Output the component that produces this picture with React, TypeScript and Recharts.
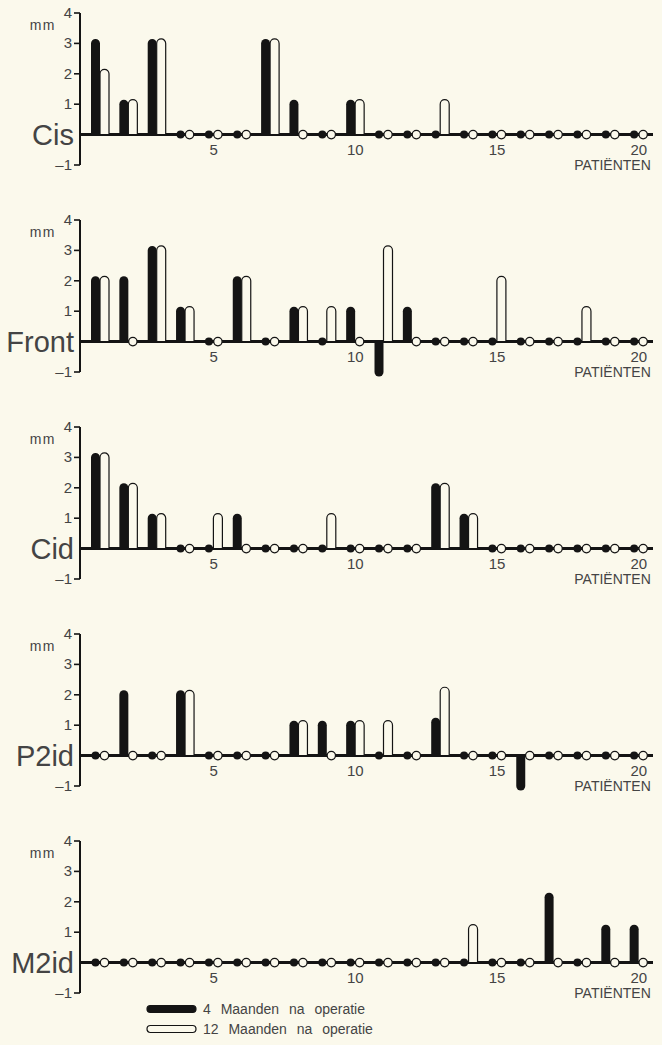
import React from "react";
import { BarChart, Bar, XAxis, YAxis, ReferenceLine, ReferenceDot } from "recharts";

const patients = [1, 2, 3, 4, 5, 6, 7, 8, 9, 10, 11, 12, 13, 14, 15, 16, 17, 18, 19, 20];
const yTicks = [-1, 0, 1, 2, 3, 4];
const xTicks = [5, 10, 15, 20];

// 4 maanden (zwart) / 12 maanden (wit), mm per patiënt
const cis4 = [3, 1, 3, 0, 0, 0, 3, 1, 0, 1, 0, 0, 0, 0, 0, 0, 0, 0, 0, 0];
const cis12 = [2, 1, 3, 0, 0, 0, 3, 0, 0, 1, 0, 0, 1, 0, 0, 0, 0, 0, 0, 0];
const front4 = [2, 2, 3, 1, 0, 2, 0, 1, 0, 1, -1, 1, 0, 0, 0, 0, 0, 0, 0, 0];
const front12 = [2, 0, 3, 1, 0, 2, 0, 1, 1, 0, 3, 0, 0, 0, 2, 0, 0, 1, 0, 0];
const cid4 = [3, 2, 1, 0, 0, 1, 0, 0, 0, 0, 0, 0, 2, 1, 0, 0, 0, 0, 0, 0];
const cid12 = [3, 2, 1, 0, 1, 0, 0, 0, 1, 0, 0, 0, 2, 1, 0, 0, 0, 0, 0, 0];
const p2id4 = [0, 2, 0, 2, 0, 0, 0, 1, 1, 1, 0, 0, 1.1, 0, 0, -1, 0, 0, 0, 0];
const p2id12 = [0, 0, 0, 2, 0, 0, 0, 1, 0, 1, 1, 0, 2.1, 0, 0, 0, 0, 0, 0, 0];
const m2id4 = [0, 0, 0, 0, 0, 0, 0, 0, 0, 0, 0, 0, 0, 0, 0, 0, 2.15, 0, 1.1, 1.1];
const m2id12 = [0, 0, 0, 0, 0, 0, 0, 0, 0, 0, 0, 0, 0, 1.1, 0, 0, 0, 0, 0, 0];

const BG = "#fbf9ec";
const INK = "#141414";
const TXT = "#444";
const FONT = "'Liberation Sans', Arial, Helvetica, sans-serif";

function pill(props: any, key: string, filled: boolean) {
  const { x, y, width, height, payload } = props;
  const v = payload[key];
  const top = Math.min(y, y + height);
  const bot = Math.max(y, y + height);
  const r = width / 2;
  if (!v) {
    const cx = x + r;
    return filled ? (
      <circle cx={cx} cy={top} r={4} fill={INK} />
    ) : (
      <circle cx={cx} cy={top} r={4.2} fill={BG} stroke={INK} strokeWidth={1.3} />
    );
  }
  let d;
  if (v > 0) {
    d = `M${x},${bot} L${x},${top} A${r},${r} 0 0 1 ${x + width},${top} L${x + width},${bot} Z`;
  } else {
    d = `M${x},${top} L${x},${bot} A${r},${r} 0 0 0 ${x + width},${bot} L${x + width},${top} Z`;
  }
  return filled ? (
    <path d={d} fill={INK} />
  ) : (
    <path d={d} fill={BG} stroke={INK} strokeWidth={1.2} />
  );
}

function yTick(props: any, name: string) {
  const { x, y, payload } = props;
  const v = payload.value;
  if (v === 0) {
    return (
      <text x={x - 6} y={y + 10} textAnchor="end" fontSize={29} fill={TXT} fontFamily={FONT}>
        {name}
      </text>
    );
  }
  return (
    <g>
      <line x1={x - 6} x2={x} y1={y} y2={y} stroke={INK} strokeWidth={1.6} />
      <text x={x - 8} y={y + 5} textAnchor="end" fontSize={15} fill={TXT} fontFamily={FONT}>
        {v < 0 ? "\u20131" : v}
      </text>
    </g>
  );
}

function Panel({ name, a, b, height = 207 }: { name: string; a: number[]; b: number[]; height?: number }) {
  const data = patients.map((p, i) => ({ p, m4: a[i], m12: b[i] }));
  return (
    <BarChart
      width={662}
      height={height}
      data={data}
      margin={{ top: 13, right: 9, bottom: height - 165, left: 0 }}
      barGap={0}
      barSize={9}
    >
      <XAxis dataKey="p" hide padding={{ left: 6, right: 0 }} />
      <YAxis
        domain={[-1, 4]}
        ticks={yTicks}
        interval={0}
        width={80}
        tickSize={0}
        tickMargin={0}
        tickLine={false}
        axisLine={{ stroke: INK, strokeWidth: 2 }}
        tick={(props: any) => yTick(props, name)}
        label={{
          content: ({ viewBox }: any) => (
            <text x={viewBox.x + 56} y={viewBox.y + 17} textAnchor="end" fontSize={14} letterSpacing={1.5} fill={TXT} fontFamily={FONT}>
              mm
            </text>
          ),
        }}
      />
      <ReferenceLine y={0} stroke={INK} strokeWidth={3} zIndex={100} />
      <Bar dataKey="m4" isAnimationActive={false} shape={(props: any) => pill(props, "m4", true)} />
      <Bar dataKey="m12" isAnimationActive={false} shape={(props: any) => pill(props, "m12", false)} />
      {xTicks.map((t) => (
        <ReferenceDot
          key={t}
          x={t}
          y={0}
          r={0}
          fill="none"
          stroke="none"
          label={{ value: String(t), position: "bottom", offset: 10, fontSize: 15, fill: TXT, fontFamily: FONT }}
        />
      ))}
      <ReferenceDot
        x={20}
        y={-1}
        r={0}
        fill="none"
        stroke="none"
        label={{
          content: ({ viewBox }: any) => (
            <text x={viewBox.x + 12} y={viewBox.y + 5} textAnchor="end" fontSize={14} fill={TXT} fontFamily={FONT}>
              PATIËNTEN
            </text>
          ),
        }}
      />
    </BarChart>
  );
}

function LegendRow({ filled, text }: { filled: boolean; text: string }) {
  return (
    <div style={{ display: "flex", alignItems: "center", height: 20 }}>
      <svg width={52} height={10} style={{ marginRight: 5 }}>
        <rect x={1} y={1.5} width={49} height={7} rx={3.5} fill={filled ? INK : BG} stroke={INK} strokeWidth={1.2} />
      </svg>
      <span style={{ fontSize: 14, color: TXT, fontFamily: FONT, wordSpacing: 6 }}>{text}</span>
    </div>
  );
}

export default function App() {
  return (
    <div style={{ position: "relative", width: 662, height: 1045, background: BG, overflow: "hidden" }}>
      <style>{"body{margin:0;background:" + BG + "}"}</style>
      <Panel name="Cis" a={cis4} b={cis12} />
      <Panel name="Front" a={front4} b={front12} />
      <Panel name="Cid" a={cid4} b={cid12} />
      <Panel name="P2id" a={p2id4} b={p2id12} />
      <Panel name="M2id" a={m2id4} b={m2id12} height={217} />
      <div style={{ position: "absolute", left: 146, top: 999 }}>
        <LegendRow filled text="4 Maanden na operatie" />
        <LegendRow filled={false} text="12 Maanden na operatie" />
      </div>
    </div>
  );
}
